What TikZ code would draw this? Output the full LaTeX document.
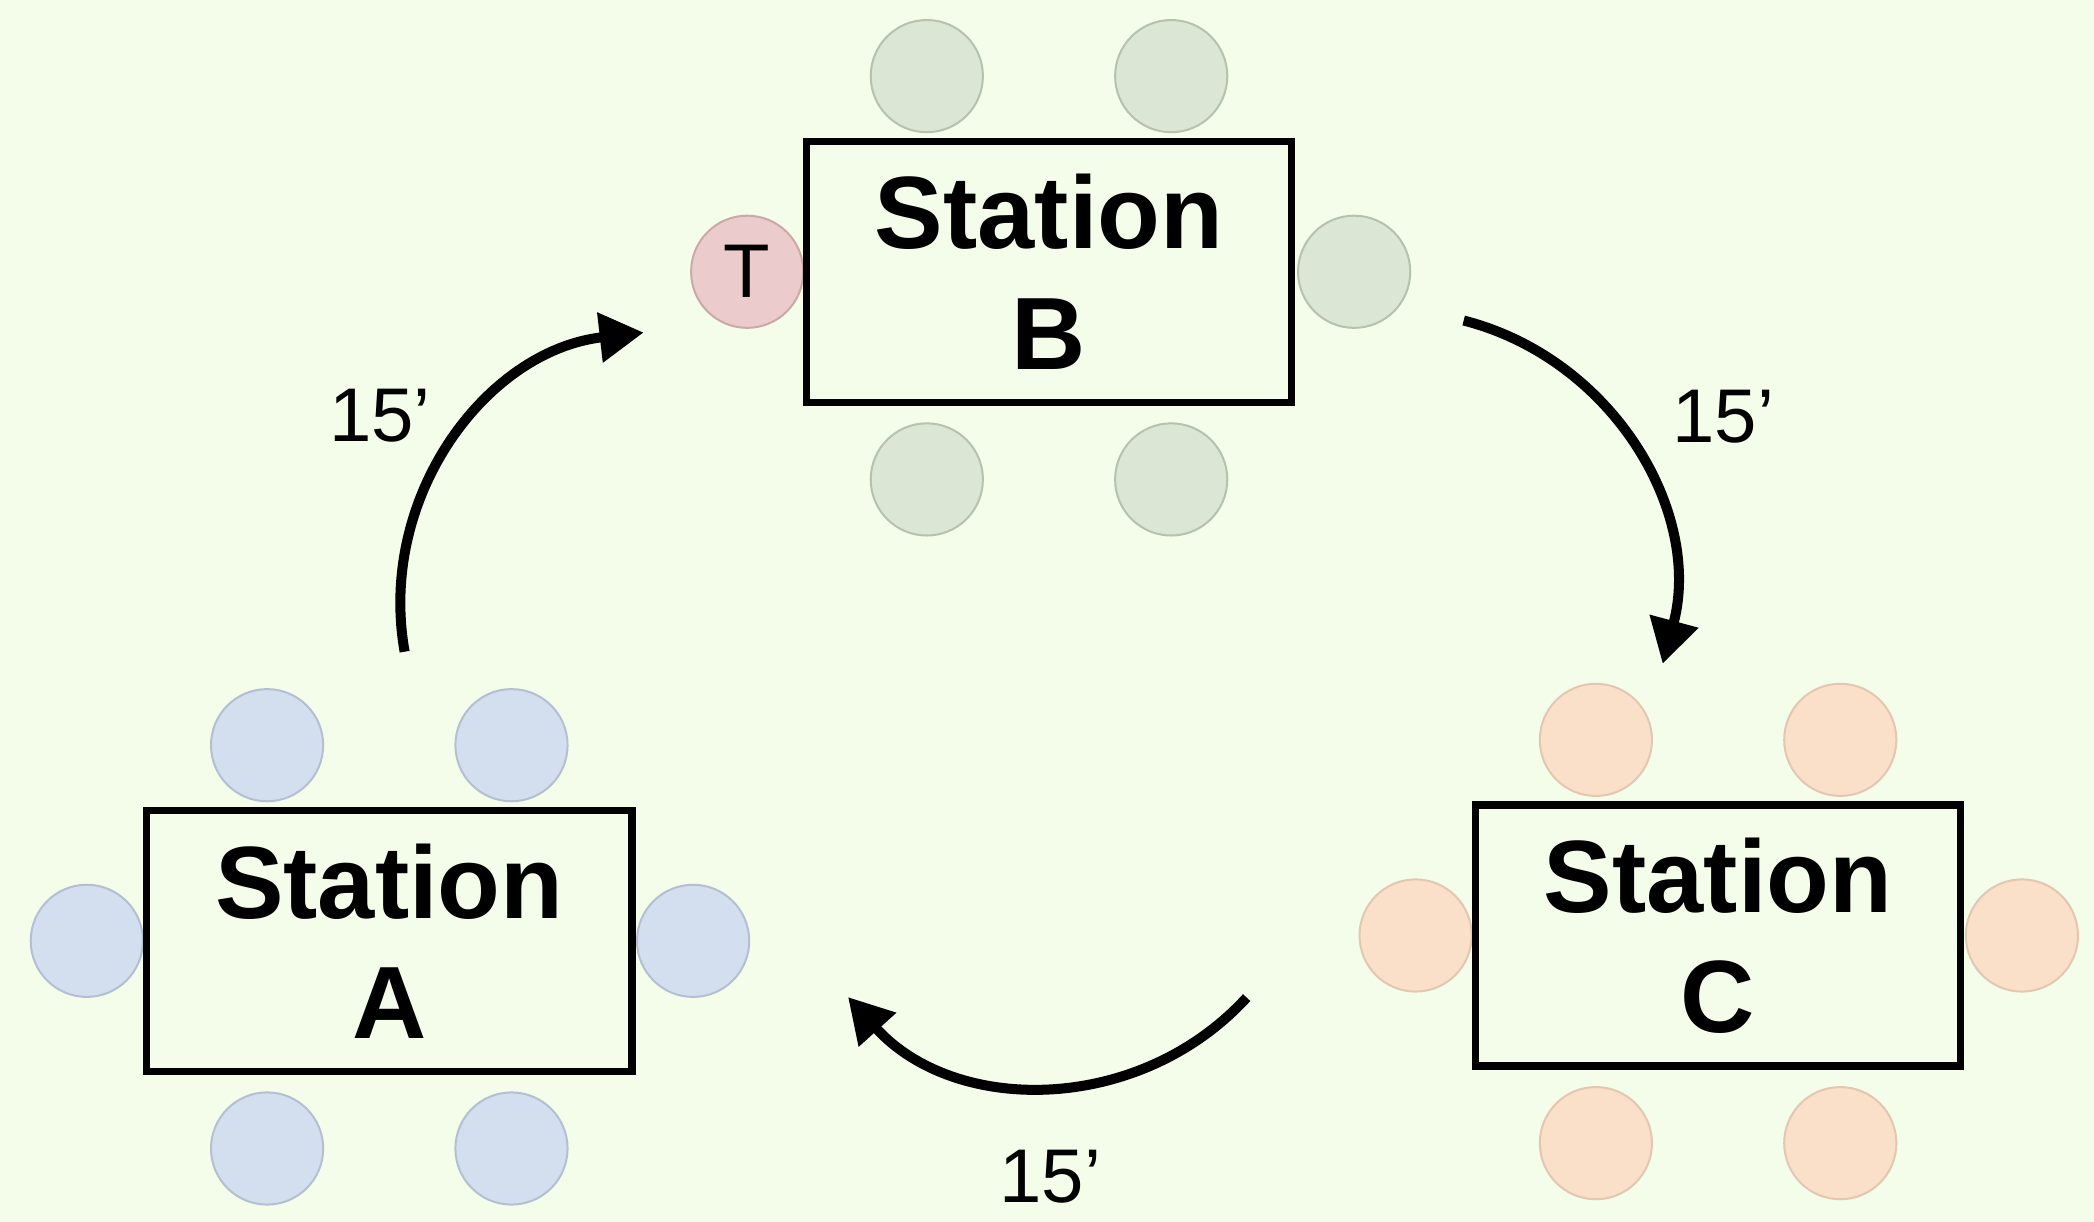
\documentclass[tikz,border=0pt]{standalone}
\usepackage{fontspec}
\setmainfont{Liberation Sans}
\usetikzlibrary{arrows.meta,calc}
\definecolor{bg}{HTML}{F4FCEA}
\definecolor{blueF}{HTML}{D3DFEF}
\definecolor{blueD}{HTML}{B4C0D2}
\definecolor{greenF}{HTML}{DCE6D5}
\definecolor{greenD}{HTML}{B5C2AE}
\definecolor{orangeF}{HTML}{FADFC9}
\definecolor{orangeD}{HTML}{E3C7B1}
\definecolor{pinkF}{HTML}{EBCBCB}
\definecolor{pinkD}{HTML}{CBA9A9}
\tikzset{
  station/.style={draw=black, fill=bg, line width=5.5pt, minimum width=363.5pt,
    minimum height=195.5pt, inner sep=0pt, align=center,
    font=\fontsize{77}{90}\selectfont\bfseries},
  chair/.style={circle, minimum size=84pt, inner sep=0pt, line width=1.5pt},
  chairA/.style={chair, fill=blueF, draw=blueD},
  chairB/.style={chair, fill=greenF, draw=greenD},
  chairC/.style={chair, fill=orangeF, draw=orangeD},
  chairT/.style={chair, fill=pinkF, draw=pinkD, font=\fontsize{57}{57}\selectfont},
  lbl/.style={inner sep=0pt, font=\fontsize{57}{57}\selectfont},
  arr/.style={line width=7.5pt, -{Triangle[length=33pt, width=36pt]}}
}
\begin{document}
\begin{tikzpicture}[x=1pt, y=-1pt]
\fill[bg] (0,0) rectangle (1568,915);
\useasboundingbox (0,0) rectangle (1568,915);

\coordinate (Ac) at (291.5,704.5);
\coordinate (Bc) at (785.5,203.5);
\coordinate (Cc) at (1286.5,700.5);

% chairs
\foreach \n/\dx/\dy in {1/-91.5/-146.5, 2/91.5/-146.5, 3/-226.5/0, 4/227.5/0, 5/-91.5/155.5, 6/91.5/155.5}{
  \node[chairA] (A\n) at ([shift={(\dx,\dy)}]Ac) {};
  \node[chairC] (C\n) at ([shift={(\dx,\dy)}]Cc) {};
}
\foreach \n/\dx/\dy in {1/-91.5/-146.5, 2/91.5/-146.5, 4/228.5/0, 5/-91.5/155.5, 6/91.5/155.5}{
  \node[chairB] (B\n) at ([shift={(\dx,\dy)}]Bc) {};
}
\node[chairT] (B3) at ([shift={(-226,0)}]Bc) {T};

% stations
\node[station] (A) at (Ac) {Station\\A};
\node[station] (B) at (Bc) {Station\\B};
\node[station] (C) at (Cc) {Station\\C};

% arrows
\coordinate (ab0) at (303,488);
\coordinate (ab1) at (482,249);
\coordinate (bc0) at (1096,240);
\coordinate (bc1) at (1245,497);
\coordinate (ca0) at (933.5,747);
\coordinate (ca1) at (635,746.6);
\draw[arr] (ab0) .. controls (282.3,371.6) and (364.5,262.4) .. (ab1);
\draw[arr] (bc0) .. controls (1208.6,268.9) and (1275.1,384.7) .. (bc1);
\draw[arr] (ca0) .. controls (853,834.8) and (714.8,835) .. (ca1);

% labels
\node[lbl] (lab) at (284.5,311) {15’};
\node[lbl] (lbc) at (1290.5,312) {15’};
\node[lbl] (lca) at (786.5,881) {15’};
\end{tikzpicture}
\end{document}
